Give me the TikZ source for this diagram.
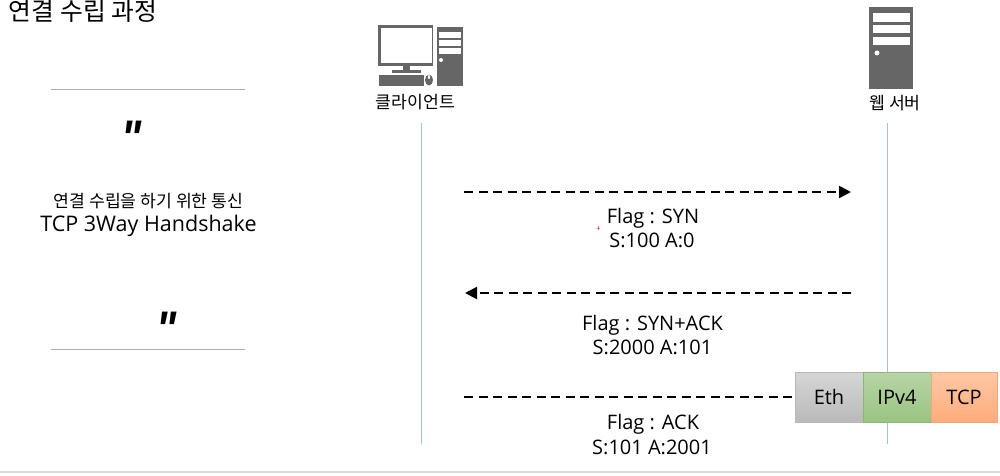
\documentclass[tikz,border=0pt]{standalone}
\usepackage{fontspec}
\usepackage{xcolor}
\setmainfont{Open Sans}
\newfontfamily\kr{Noto Sans CJK KR}
\newfontfamily\quotefont{Liberation Sans}
\usetikzlibrary{positioning,arrows.meta}
\definecolor{icongray}{HTML}{666666}
\definecolor{lifeblue}{HTML}{A3C3D8}
\definecolor{rulegray}{HTML}{B0B0B0}
\definecolor{ethtop}{HTML}{D6D6D6}
\definecolor{ethbot}{HTML}{BABABA}
\definecolor{ethline}{HTML}{B8B8B8}
\definecolor{iptop}{HTML}{B7D4A6}
\definecolor{ipbot}{HTML}{9AC482}
\definecolor{ipline}{HTML}{8DB573}
\definecolor{tcptop}{HTML}{FFC8A6}
\definecolor{tcpbot}{HTML}{FFAC7C}
\definecolor{tcpline}{HTML}{F0A878}
\newcommand{\fsize}[1]{\fontsize{#1}{#1}\selectfont}

\begin{document}
\begin{tikzpicture}[
  x=1pt,y=-1pt,
  every node/.style={inner sep=0pt,outer sep=0pt,align=center},
  lifeline/.style={draw=lifeblue,line width=1pt},
  flow/.style={draw=black,line width=2pt,dash pattern=on 9pt off 5.5pt},
  flowhead/.style={flow,-{Triangle[length=12pt,width=12pt]}},
  hrule/.style={draw=rulegray,line width=1pt},
  icon/.style={fill=icongray,draw=none},
  slot/.style={fill=white,draw=none},
  label/.style={font=\kr\fsize{17.2}},
  msg/.style={font=\fsize{20},text height=15pt,text depth=4pt},
  layer/.style={draw=#1line,top color=#1top,bottom color=#1bot,minimum height=50pt,font=\fsize{20},line width=0.8pt},
  quotemark/.style={anchor=base,xscale=0.85,font=\quotefont\bfseries\itshape\fsize{50}}
]
  \useasboundingbox (0,0) rectangle (1000,475);
  % page furniture
  \coordinate (bottomL) at (0,472);
  \coordinate (bottomR) at (1000,472);
  \draw[draw=black!15,line width=1.2pt] (bottomL) -- (bottomR);
  \node[anchor=west,font=\kr\fsize{24.8}] (title) at (9,11) {연결 수립 과정};

  % left panel
  \coordinate (ruleTopL) at (51,89);
  \coordinate (ruleTopR) at (245,89);
  \coordinate (ruleBotL) at (51,349);
  \coordinate (ruleBotR) at (245,349);
  \draw[hrule] (ruleTopL) -- (ruleTopR);
  \draw[hrule] (ruleBotL) -- (ruleBotR);
  \node[quotemark] (quoteA) at (132,155) {"};
  \node[quotemark] (quoteB) at (167,346) {"};
  \node[label] (purpose) at (148.5,201) {연결 수립을 하기 위한 통신};
  \node[font=\fsize{21.5}] (handshake) at (148.5,225.5) {TCP 3Way Handshake};

  % client icon
  \fill[icon] (378,25) rectangle (433,66);
  \fill[slot] (380.5,28) rectangle (432,63);
  \fill[icon] (403,66) rectangle (410,70);
  \fill[icon] (392,70) rectangle (421,73);
  \fill[icon] (379,75) rectangle (424,86);
  \fill[icon] (429,80) ellipse (4 and 5.5);
  \fill[slot] (429,77) ellipse (1.2 and 2);
  \fill[icon] (437,27) rectangle (463,86);
  \fill[slot] (439,32) rectangle (461,37.5);
  \fill[slot] (439,40) rectangle (461,46);
  \fill[slot] (439,48) rectangle (461,54);
  \fill[slot] (441,60) circle (2);

  % server icon
  \fill[icon] (869,7) rectangle (913,89);
  \fill[slot] (873,13) rectangle (910,22);
  \fill[slot] (873,25) rectangle (910,33);
  \fill[slot] (873,37) rectangle (910,45);
  \fill[slot] (877,53) circle (2.5);

  % hosts
  \node[label] (client) at (415.5,102) {클라이언트};
  \node[label] (server) at (895,103) {웹 서버};
  \coordinate (clientTop) at (421,123);
  \coordinate (clientEnd) at (421,444);
  \coordinate (serverTop) at (887,123);
  \coordinate (serverEnd) at (887,444);
  \draw[lifeline] (clientTop) -- (clientEnd);
  \draw[lifeline] (serverTop) -- (serverEnd);

  % header stack
  \node[layer=eth,minimum width=68pt] (eth) at (829,397) {Eth};
  \node[layer=ip,minimum width=68pt,right=0pt of eth] (ipv4) {IPv4};
  \node[layer=tcp,minimum width=66pt,right=0pt of ipv4] (tcp) {TCP};

  % handshake messages
  \coordinate (synA) at (464,192);
  \coordinate (synB) at (851,192);
  \coordinate (ackA) at (851,293);
  \coordinate (ackB) at (465,293);
  \coordinate (lastA) at (464,397);
  \draw[flowhead] (synA) -- (synB);
  \draw[flowhead] (ackA) -- (ackB);
  \draw[flow] (lastA) -- (eth.west);

  \node[msg] (msgA) at (653,218) {Flag : SYN};
  \node[msg] (seqA) at (652,242) {S:100 A:0};
  \node[msg] (msgB) at (652.5,325) {Flag : SYN+ACK};
  \node[msg] (seqB) at (652.5,349) {S:2000 A:101};
  \node[msg] (msgC) at (653,424) {Flag : ACK};
  \node[msg] (seqC) at (652,449) {S:101 A:2001};
  \node[text=red,font=\fsize{8}] (cursor) at (598.5,229) {+};
\end{tikzpicture}
\end{document}
